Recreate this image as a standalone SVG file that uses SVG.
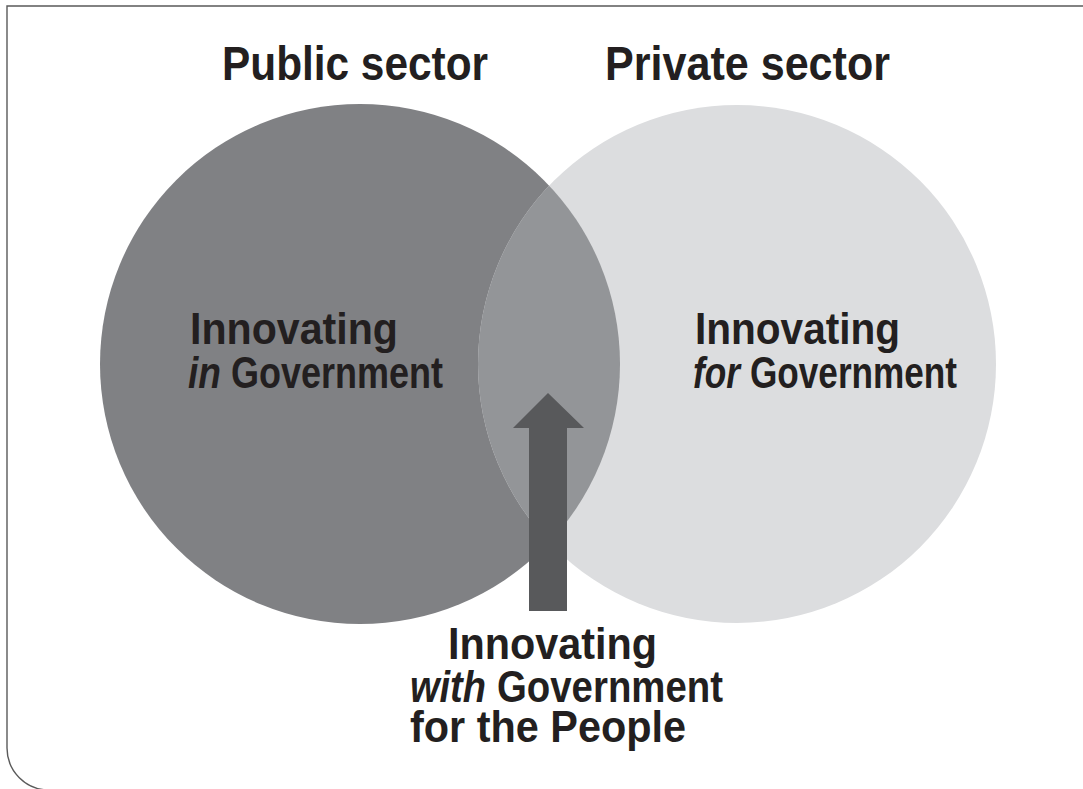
<svg xmlns="http://www.w3.org/2000/svg" width="1083" height="789" viewBox="0 0 1083 789">
  <style>
    .t { font-family: "Liberation Sans", Arial, sans-serif; font-weight: bold; fill: #231f20; }
    .title { font-size: 48px; }
    .lbl { font-size: 45px; }
    .i { font-style: italic; }
  </style>
  <rect width="1083" height="789" fill="#ffffff"/>
  <path id="frame" d="M 1083 6 H 7 V 748 A 42 42 0 0 0 49 790" fill="none" stroke="#5a5a5a" stroke-width="1.4"/>

  <g id="public-sector">
    <circle cx="360" cy="364" r="260" fill="#808184"/>
    <text class="t title" x="222" y="80" textLength="266" lengthAdjust="spacingAndGlyphs">Public sector</text>
    <text class="t lbl" x="190" y="344" textLength="208" lengthAdjust="spacingAndGlyphs">Innovating</text>
    <text class="t lbl i" x="188" y="388" textLength="33" lengthAdjust="spacingAndGlyphs">in</text>
    <text class="t lbl" x="231" y="388" textLength="212" lengthAdjust="spacingAndGlyphs">Government</text>
  </g>

  <g id="private-sector">
    <circle cx="737" cy="364" r="259" fill="#dcdddf"/>
    <text class="t title" x="605" y="80" textLength="285" lengthAdjust="spacingAndGlyphs">Private sector</text>
    <text class="t lbl" x="695" y="344" textLength="205" lengthAdjust="spacingAndGlyphs">Innovating</text>
    <text class="t lbl i" x="693" y="388" textLength="47" lengthAdjust="spacingAndGlyphs">for</text>
    <text class="t lbl" x="750" y="388" textLength="207" lengthAdjust="spacingAndGlyphs">Government</text>
  </g>

  <defs>
    <clipPath id="clipLeft">
      <circle cx="360" cy="364" r="260"/>
    </clipPath>
  </defs>
  <g id="overlap">
    <circle cx="737" cy="364" r="259" fill="#939598" clip-path="url(#clipLeft)"/>
  </g>

  <g id="connectors">
    <path d="M 548 393 L 584 428 L 567 428 L 567 611 L 529 611 L 529 428 L 513 428 Z" fill="#58595b"/>
  </g>

  <g id="with-government">
    <text class="t lbl" x="448" y="659" textLength="209" lengthAdjust="spacingAndGlyphs">Innovating</text>
    <text class="t lbl i" x="410" y="702" textLength="76" lengthAdjust="spacingAndGlyphs">with</text>
    <text class="t lbl" x="497" y="702" textLength="226" lengthAdjust="spacingAndGlyphs">Government</text>
    <text class="t lbl" x="410" y="742" textLength="276" lengthAdjust="spacingAndGlyphs">for the People</text>
  </g>
</svg>
